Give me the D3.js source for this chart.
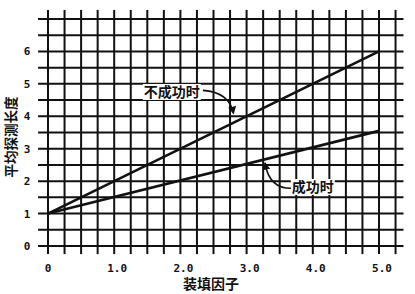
<!DOCTYPE html>
<meta charset="utf-8">
<style>
body { margin: 0; background: #fff; }
.grid line { stroke: #111; stroke-width: 2; }
.tick-label { font-family: "DejaVu Sans Mono", monospace; font-weight: bold; font-size: 11px; fill: #111; }
.title { font-family: "Noto Sans CJK SC", sans-serif; font-weight: bold; font-size: 14px; fill: #111; }
</style>
<svg width="415" height="294"></svg>
<script src="https://cdn.jsdelivr.net/npm/d3@7"></script>
<script>

var xTicks = [0, 1, 2, 3, 4, 5];
var xTickLabels = ["0", "1.0", "2.0", "3.0", "4.0", "5.0"];
var yTicks = [0, 1, 2, 3, 4, 5, 6];

// 装填因子 vs 平均探测长度
var loadFactor = [0, 5];
var failLength = [1, 6];
var successLength = [1, 3.55];

var labels = ["不成功时", "成功时"];
// label position, arrow start, arrow end (data units)
var labelPos = [[1.87, 4.75], [4.0, 1.82]];
var arrowFrom = [[2.34, 4.8], [3.67, 1.78]];
var arrowTo = [[2.8, 4.1], [3.28, 2.55]];

var svg = d3.select("svg");

var x = d3.scaleLinear().domain([0, 5]).range([48, 379]);
var y = d3.scaleLinear().domain([0, 7]).range([246, 19]);

var grid = svg.append("g").attr("class", "grid");

grid.selectAll(".h")
  .data(d3.range(0, 7.01, 0.5))
  .enter().append("line")
    .attr("x1", x(-0.15)).attr("x2", x(5.37))
    .attr("y1", function(d) { return y(d); })
    .attr("y2", function(d) { return y(d); });

grid.selectAll(".v")
  .data(d3.range(0, 5.26, 0.25))
  .enter().append("line")
    .attr("x1", function(d) { return x(d); })
    .attr("x2", function(d) { return x(d); })
    .attr("y1", y(7.28)).attr("y2", y(-0.25));

svg.append("g").selectAll("text")
  .data(xTicks)
  .enter().append("text")
    .attr("class", "tick-label")
    .attr("x", function(d) { return x(d) + (d ? 3 : 0); })
    .attr("y", 272)
    .attr("text-anchor", "middle")
    .text(function(d, i) { return xTickLabels[i]; });

svg.append("g").selectAll("text")
  .data(yTicks)
  .enter().append("text")
    .attr("class", "tick-label")
    .attr("x", 27)
    .attr("y", function(d) { return y(d) + 4; })
    .attr("text-anchor", "middle")
    .text(function(d) { return d; });

var line = d3.line()
  .x(function(d) { return x(d[0]); })
  .y(function(d) { return y(d[1]); });

[failLength, successLength].forEach(function(vals) {
  svg.append("path")
    .datum(loadFactor.map(function(v, i) { return [v, vals[i]]; }))
    .attr("d", line)
    .attr("fill", "none")
    .attr("stroke", "#111")
    .attr("stroke-width", 2.6);
});

svg.append("defs").append("marker")
    .attr("id", "arrow")
    .attr("viewBox", "0 0 10 10")
    .attr("refX", 8).attr("refY", 5)
    .attr("markerWidth", 5).attr("markerHeight", 5)
    .attr("orient", "auto")
  .append("path")
    .attr("d", "M0,0L10,5L0,10z")
    .attr("fill", "#111");

labels.forEach(function(t, i) {
  svg.append("rect")
    .attr("x", x(labelPos[i][0]) - t.length * 7 - 1)
    .attr("y", y(labelPos[i][1]) - 8)
    .attr("width", t.length * 14 + 2)
    .attr("height", 16)
    .attr("fill", "#fff");
  svg.append("text")
    .attr("class", "title")
    .attr("x", x(labelPos[i][0]))
    .attr("y", y(labelPos[i][1]) + 5)
    .attr("text-anchor", "middle")
    .text(t);

  var a = [x(arrowFrom[i][0]), y(arrowFrom[i][1])];
  var b = [x(arrowTo[i][0]), y(arrowTo[i][1])];
  var c = i === 0 ? [b[0] - 4, a[1] + 2] : [b[0] + 4, a[1]];
  svg.append("path")
    .attr("d", "M" + a + "Q" + c + " " + b)
    .attr("fill", "none")
    .attr("stroke", "#111")
    .attr("stroke-width", 1.6)
    .attr("marker-end", "url(#arrow)");
});

svg.append("text")
  .attr("class", "title")
  .attr("x", 211).attr("y", 289)
  .attr("text-anchor", "middle")
  .text("装填因子");

svg.append("text")
  .attr("class", "title")
  .attr("transform", "translate(9.5,137) rotate(-90)")
  .attr("text-anchor", "middle")
  .attr("dominant-baseline", "central")
  .style("font-size", "13.5px")
  .text("平均探测长度");

</script>
